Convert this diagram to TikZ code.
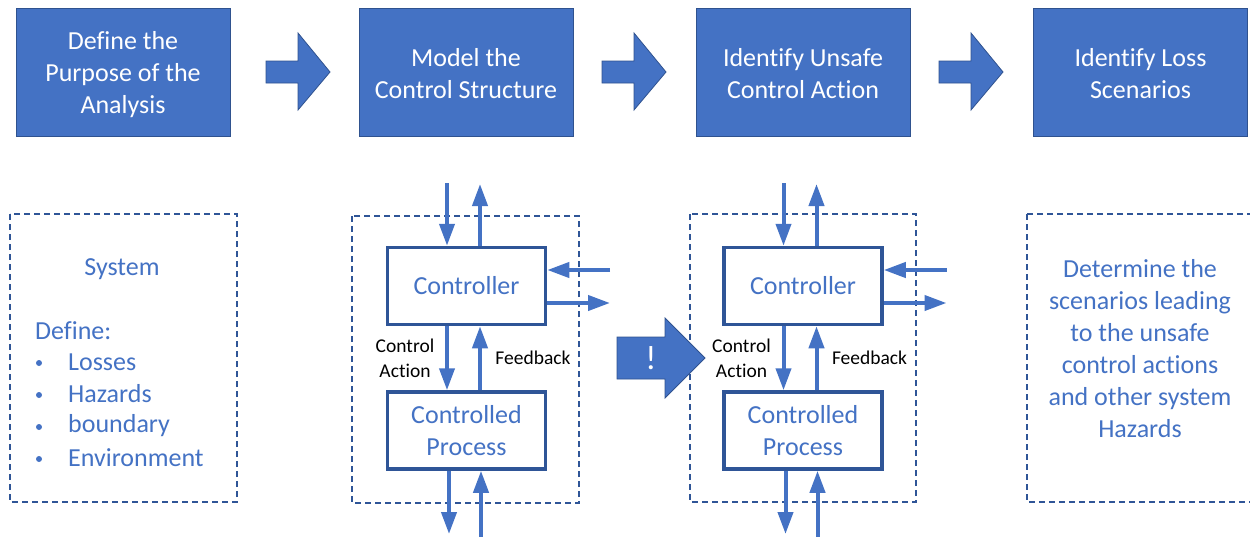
\documentclass[tikz,border=0pt]{standalone}
\usepackage{fontspec}
\setmainfont{Carlito}[Ligatures=NoCommon]
\usetikzlibrary{arrows.meta}
\definecolor{mblue}{HTML}{4472C4}
\definecolor{dblue}{HTML}{2F528F}
\definecolor{bblue}{HTML}{2F5597}
\tikzset{
  topbox/.style={draw=dblue, line width=1pt, fill=mblue, minimum width=214, minimum height=128, inner sep=0},
  toptxt/.style={text=white, inner sep=0, align=center, font=\fontsize{26}{32}\selectfont},
  ctrlbox/.style={draw=bblue, line width=3.5pt, fill=white, text=mblue, minimum width=158, minimum height=77, inner sep=0, align=center, font=\fontsize{26}{32}\selectfont},
  dashbox/.style={draw=bblue, line width=1.3pt, dash pattern=on 6pt off 4pt},
  flow/.style={draw=mblue, line width=4pt, -{Triangle[length=22pt,width=15pt]}},
  blockarrow/.style={fill=mblue, draw=dblue, line width=0.8pt, line join=miter},
  smalltxt/.style={text=black, align=center, inner sep=0, font=\fontsize{19.5}{25}\selectfont},
  bluetxt/.style={text=mblue, inner sep=0, font=\fontsize{26}{32}\selectfont},
}
\begin{document}
\begin{tikzpicture}[x=1pt,y=-1pt]
\useasboundingbox (0,0) rectangle (1250,536);
\clip (0,0) rectangle (1250,536);

% top boxes
\node[topbox] (b1) at (123,72) {};
\node[topbox] (b2) at (466,72) {};
\node[topbox] (b3) at (803,72) {};
\node[topbox] (b4) at (1140.5,72) {};
\node[toptxt] (t1) at ([yshift=-3pt]b1.center) {Define the\\Purpose of the\\Analysis};
\node[toptxt] (t2) at ([yshift=-2pt]b2.center) {Model the\\Control Structure};
\node[toptxt] (t3) at ([yshift=-2pt]b3.center) {Identify Unsafe\\Control Action};
\node[toptxt] (t4) at ([yshift=-2pt]b4.center) {Identify Loss\\Scenarios};

% block arrows
\foreach \x in {266,602,939}{
  \path[blockarrow] (\x,61) -- (\x+32,61) -- (\x+32,33) -- (\x+64,72) -- (\x+32,110) -- (\x+32,83) -- (\x,83) -- cycle;
}

% dashed boxes
\draw[dashbox] (10,214) rectangle (237,502);
\draw[dashbox] (352,216) rectangle (579,503);
\draw[dashbox] (690,214) rectangle (916,502);
\draw[dashbox] (1027,214) rectangle (1262,502);

% left panel text
\node[bluetxt] (sys) at (122,269) {System};
\node[bluetxt, anchor=west] (def) at (35,331) {Define:};
\foreach \t/\y [count=\i] in {Losses/362,Hazards/394,boundary/426,Environment/458}{
  \node[bluetxt, anchor=west] (it\i) at (68,\y) {\t};
  \fill[mblue] (39,\y+1) circle (3pt);
}

% right panel text
\node[bluetxt, align=center] (det) at (1140,349) {Determine the\\scenarios leading\\to the unsafe\\control actions\\and other system\\Hazards};

% control structures
\foreach \dx/\n in {0/a,336.5/b}{
  \begin{scope}[xshift=\dx]
    \node[ctrlbox] (ctrl\n) at (466.5,286) {Controller};
    \node[ctrlbox] (proc\n) at (466.5,430.5) {Controlled\\Process};
    \coordinate (tin\n) at (447,183);
    \coordinate (tout\n) at (480,184);
    \coordinate (rin\n) at (610,270);
    \coordinate (rout\n) at (610,303);
    \coordinate (bout\n) at (449,534);
    \coordinate (bin\n) at (481,537);
    \draw[flow] (tin\n) -- (tin\n |- ctrl\n.north);
    \draw[flow] (tout\n |- ctrl\n.north) -- (tout\n);
    \draw[flow] (rin\n) -- (rin\n -| ctrl\n.east);
    \draw[flow] (rout\n -| ctrl\n.east) -- (rout\n);
    \draw[flow] (tin\n |- ctrl\n.south) -- (tin\n |- proc\n.north);
    \draw[flow] (tout\n |- proc\n.north) -- (tout\n |- ctrl\n.south);
    \draw[flow] (bout\n |- proc\n.south) -- (bout\n);
    \draw[flow] (bin\n) -- (bin\n |- proc\n.south);
    \node[smalltxt] (ca\n) at (405,358) {Control\\Action};
    \node[smalltxt] (fb\n) at (533,358) {Feedback};
  \end{scope}
}

% warning arrow
\path[blockarrow] (617,337) -- (665,337) -- (665,318) -- (705,358) -- (665,398) -- (665,379) -- (617,379) -- cycle;
\node[text=white, font=\fontsize{34}{34}\selectfont, inner sep=0] (excl) at (651,358) {!};
\end{tikzpicture}
\end{document}
